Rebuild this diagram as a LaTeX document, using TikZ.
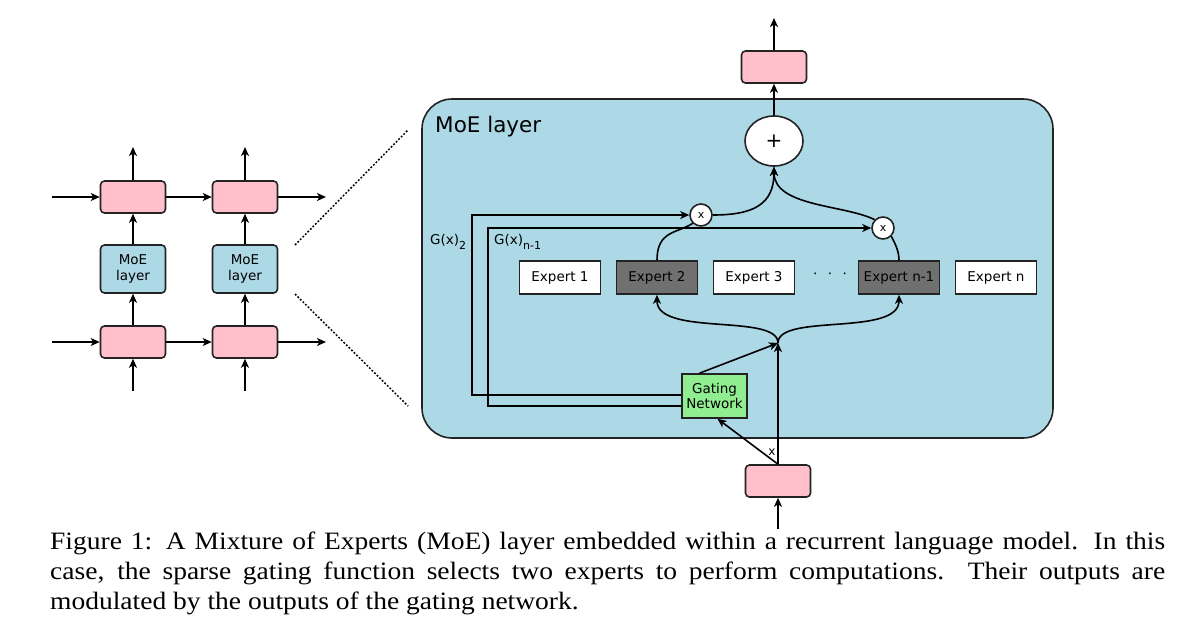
\documentclass[tikz,border=0pt]{standalone}
\usepackage{fontspec}
\setmainfont{Liberation Serif}
\newfontfamily\diagfont{DejaVu Sans}
\newfontfamily\capfont[FakeStretch=1.1]{Liberation Serif}
\usepackage{tikz}
\usetikzlibrary{shapes.geometric, arrows.meta}
\definecolor{rnnpink}{RGB}{255, 192, 203}
\definecolor{moeblue}{RGB}{173, 216, 230}
\definecolor{gategreen}{RGB}{144, 238, 144}
\definecolor{busy}{RGB}{112, 112, 112}
\definecolor{edge}{RGB}{35, 35, 35}

\begin{document}
\begin{tikzpicture}[
   x=1pt, y=-1pt,
   font=\diagfont\fontsize{13.5}{15.5}\selectfont,
   cell/.style={rectangle, rounded corners=4, draw=edge, fill=rnnpink, line width=1.6,
                minimum width=65, minimum height=32},
   moecell/.style={rectangle, rounded corners=4, draw=edge, fill=moeblue, line width=1.6,
                   minimum width=65, minimum height=48, align=center, inner sep=0},
   expert/.style={rectangle, draw=edge, fill=white, line width=1.6,
                  minimum width=81, minimum height=33, inner sep=0},
   active/.style={expert, fill=busy},
   gate/.style={rectangle, draw=edge, fill=gategreen, line width=1.6, align=center,
                minimum width=65, minimum height=44, inner sep=0},
   mult/.style={circle, draw=edge, fill=white, line width=1.6, minimum size=22,
                inner sep=0, font=\diagfont\fontsize{11}{12}\selectfont},
   plus/.style={ellipse, draw=edge, fill=white, line width=1.6, minimum width=58,
                minimum height=50, inner sep=0, font=\diagfont\fontsize{20}{22}\selectfont},
   flow/.style={->, >={Stealth[length=9pt, width=8pt, inset=2.5pt]}, line width=1.6,
                color=black},
   wire/.style={line width=1.6, color=black}
  ]

  \useasboundingbox (0, 0) rectangle (1200, 630);

  % Recurrent model, two time steps
  \node (T1) at (133, 197) [cell] {};
  \node (T2) at (245, 197) [cell] {};
  \node (M1) at (133, 269) [moecell] {MoE\\layer};
  \node (M2) at (245, 269) [moecell] {MoE\\layer};
  \node (B1) at (133, 342) [cell] {};
  \node (B2) at (245, 342) [cell] {};

  \coordinate (inA) at (52, 197);
  \coordinate (outA) at (326, 197);
  \coordinate (inB) at (52, 342);
  \coordinate (outB) at (326, 342);
  \coordinate (upA) at (133, 147);
  \coordinate (upB) at (245, 147);
  \coordinate (lowA) at (133, 391);
  \coordinate (lowB) at (245, 391);

  \foreach \B/\E in {inA/T1, T1/T2, T2/outA, inB/B1, B1/B2, B2/outB,
                     lowA/B1, lowB/B2, B1/M1, B2/M2, M1/T1, M2/T2, T1/upA, T2/upB} {
    \draw[flow] (\B) -- (\E);
  }

  % Zoom lines
  \coordinate (zA) at (295, 245);
  \coordinate (zB) at (408, 130);
  \coordinate (zC) at (295, 294);
  \coordinate (zD) at (408, 406);
  \draw[dash pattern=on 1.8pt off 1.8pt, line width=1.5] (zA) -- (zB);
  \draw[dash pattern=on 1.8pt off 1.8pt, line width=1.5] (zC) -- (zD);

  % MoE layer
  \node (moe) at (737.5, 268.5) [rectangle, rounded corners=30, draw=edge, fill=moeblue,
        line width=1.6, minimum width=631, minimum height=339] {};
  \node (moelabel) at (435, 132) [anchor=base west, inner sep=0,
        font=\diagfont\fontsize{21.5}{24}\selectfont] {MoE layer};

  \node (E1) at (560, 277.5) [expert] {Expert 1};
  \node (E2) at (657, 277.5) [active] {Expert 2};
  \node (E3) at (754, 277.5) [expert] {Expert 3};
  \node (dots) at (830, 276) {·\hspace{10.5pt}·\hspace{10.5pt}·};
  \node (En1) at (899, 277.5) [active] {Expert n-1};
  \node (En) at (996, 277.5) [expert] {Expert n};

  \node (gate) at (714.5, 396) [gate] {Gating\\Network};
  \node (plus) at (774, 141) [plus] {+};
  \node (mult1) at (701, 215) [mult] {x};
  \node (mult2) at (883, 228) [mult] {x};

  \node (input) at (778, 481) [cell] {};
  \node (output) at (774, 67) [cell] {};
  \coordinate (inC) at (778, 529);
  \coordinate (upC) at (774, 18);
  \coordinate (join) at (778, 343);
  \coordinate (g2bend) at (472, 215);
  \coordinate (gnbend) at (488, 228);

  \node (xlab) at (772, 452) [font=\diagfont\fontsize{12}{13}\selectfont] {x};
  \node (g2lab) at (430, 242) [anchor=west, inner sep=0]
        {G(x)\raisebox{-4.5pt}{\fontsize{11}{12}\selectfont 2}};
  \node (gnlab) at (494, 242) [anchor=west, inner sep=0]
        {G(x)\raisebox{-4.5pt}{\fontsize{11}{12}\selectfont n-1}};

  \foreach \B/\E in {inC/input, input.north/join, plus/output, output/upC} {
    \draw[flow] (\B) -- (\E);
  }
  \draw[flow] (input.north) -- ([xshift=3]gate.south);
  \draw[flow] ([xshift=-15]gate.north) -- (join);

  \draw[flow] (join) .. controls +(0, -30) and +(0, 42) .. (E2.south);
  \draw[flow] (join) .. controls +(0, -30) and +(0, 42) .. (En1.south);

  \draw[flow] ([yshift=1]gate.west) -| (g2bend) -- (mult1.west);
  \draw[flow] ([yshift=-10]gate.west) -| (gnbend) -- (mult2.west);

  \draw[wire] (E2.north) .. controls +(0, -30) and +(-15, 10) .. (mult1.south west);
  \draw[wire] (En1.north) .. controls +(0, -10) and +(3, 6) .. (mult2.south east);
  \draw[flow] (mult1.east) .. controls +(40, 0) and +(0, 38) .. (plus.south);
  \draw[flow] (mult2.north west) .. controls +(-30, -15) and +(0, 40) .. (plus.south);

  % Caption
  \node (caption) at (50, 532) [anchor=north west, inner sep=0, text width=1115,
        align=justify, font=\capfont\fontsize{25}{30}\selectfont]
        {Figure 1: A Mixture of Experts (MoE) layer embedded within a recurrent language
         model. In this\linebreak case, the sparse gating function selects two experts to
         perform computations. Their outputs are\linebreak modulated by the outputs of the
         gating network.};

\end{tikzpicture}
\end{document}
